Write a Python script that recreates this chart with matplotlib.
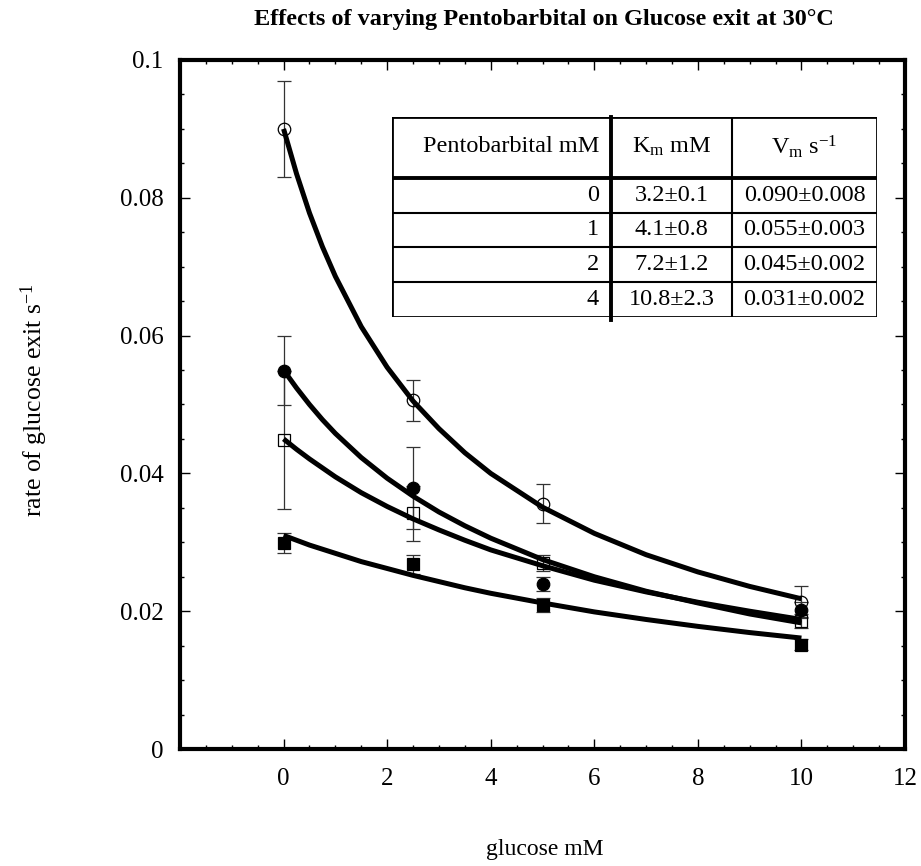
import numpy as np
import matplotlib
matplotlib.use("Agg")
import matplotlib.pyplot as plt

plt.rcParams['font.family'] = ['Liberation Serif', 'DejaVu Serif']
plt.rcParams['mathtext.fontset'] = 'custom'
plt.rcParams['mathtext.rm'] = 'Liberation Serif'
plt.rcParams['mathtext.it'] = 'Liberation Serif:italic'

# measured points (glucose mM -> rate s^-1), one list per pentobarbital level
glucose = [0, 2.5, 5, 10]
rate_0 = [0.0900, 0.0506, 0.0356, 0.0214]
err_0 = [0.0070, 0.0030, 0.0028, 0.0022]
rate_1 = [0.0549, 0.0379, 0.0239, 0.0202]
err_1 = [0.0050, 0.0060, 0.0010, 0.0012]
rate_2 = [0.0449, 0.0342, 0.0270, 0.0186]
err_2 = [0.0100, 0.0040, 0.0012, 0.0010]
rate_4 = [0.0299, 0.0268, 0.0209, 0.0151]
err_4 = [0.0015, 0.0014, 0.0010, 0.0008]

# fitted curves
curve_x = [0, 0.25, 0.5, 0.75, 1, 1.5, 2, 2.5, 3, 3.5, 4, 5, 6, 7, 8, 9, 10]
fit_0 = [0.0900, 0.0835, 0.0778, 0.0729, 0.0686, 0.0613, 0.0554, 0.0505, 0.0465,
         0.0430, 0.0400, 0.0351, 0.0313, 0.0282, 0.0257, 0.0236, 0.0218]
fit_1 = [0.0550, 0.0524, 0.0500, 0.0478, 0.0458, 0.0423, 0.0393, 0.0367, 0.0344,
         0.0324, 0.0306, 0.0275, 0.0250, 0.0229, 0.0212, 0.0196, 0.0183]
fit_2 = [0.0450, 0.0435, 0.0421, 0.0408, 0.0395, 0.0372, 0.0352, 0.0334, 0.0318,
         0.0303, 0.0289, 0.0266, 0.0245, 0.0228, 0.0213, 0.0200, 0.0188]
fit_4 = [0.0310, 0.0303, 0.0296, 0.0290, 0.0284, 0.0272, 0.0262, 0.0252, 0.0243,
         0.0234, 0.0226, 0.0212, 0.0199, 0.0188, 0.0178, 0.0169, 0.0161]

# inset table
tab_header = ['Pentobarbital mM', 'K$_{\\mathrm{m}}$ mM', 'V$_{\\mathrm{m}}$ s$^{-1}$']
tab_pento = ['0', '1', '2', '4']
tab_km = ['3.2\u00b10.1', '4.1\u00b10.8', '7.2\u00b11.2', '10.8\u00b12.3']
tab_vm = ['0.090\u00b10.008', '0.055\u00b10.003', '0.045\u00b10.002', '0.031\u00b10.002']

fig = plt.figure(figsize=(9.21, 8.66), dpi=100)
ax = fig.add_axes([180/921, 1-749/866, 725/921, 689/866])

series = [(rate_0, err_0, fit_0, 'o', 'none'),
          (rate_1, err_1, fit_1, 'o', 'black'),
          (rate_2, err_2, fit_2, 's', 'none'),
          (rate_4, err_4, fit_4, 's', 'black')]
for r, e, f, m, fc in series:
    ax.errorbar(glucose, r, yerr=e, fmt='none', ecolor='#333333', elinewidth=0.9,
                capsize=5, capthick=0.9, zorder=2)
    ax.plot(glucose, r, linestyle='none', marker=m, markersize=9,
            markerfacecolor=fc, markeredgecolor='black', markeredgewidth=0.9, zorder=3)
    ax.plot(curve_x, f, color='black', linewidth=3.6, solid_capstyle='butt',
            solid_joinstyle='round', zorder=4)

ax.set_xlim(-2, 12)
ax.set_ylim(0, 0.1)
ax.set_xticks([0, 2, 4, 6, 8, 10, 12])
ax.set_xticks(np.arange(-2, 12.01, 0.5), minor=True)
ax.set_yticks([0, 0.02, 0.04, 0.06, 0.08, 0.1])
ax.set_yticklabels(['0', '0.02', '0.04', '0.06', '0.08', '0.1'])
ax.set_yticks(np.arange(0, 0.1001, 0.005), minor=True)
ax.tick_params(which='both', direction='in', top=True, right=True, labelsize=18, width=1)
ax.tick_params(which='major', length=7)
ax.tick_params(which='minor', length=3)
ax.tick_params(axis='x', pad=14)
ax.tick_params(axis='y', pad=12)
for s in ax.spines.values():
    s.set_linewidth(3)

fig.text(544/921, 1-19/866, 'Effects of varying Pentobarbital on Glucose exit at 30\u00b0C',
         ha='center', va='center', fontsize=17.5, fontweight='bold')
fig.text(545/921, 1-850/866, 'glucose mM', ha='center', va='center', fontsize=17)
fig.text(34/921, 1-400/866, 'rate of glucose exit s$^{-1}$', ha='center', va='center',
         rotation=90, fontsize=18.5)

# table drawn in its own pixel-scaled axes
tx = fig.add_axes([392/921, 1-317/866, 485/921, 200/866])
tx.set_xlim(0, 485)
tx.set_ylim(200, 0)
tx.axis('off')
tx.add_patch(plt.Rectangle((0, 0), 485, 200, facecolor='white', edgecolor='black', linewidth=2))
row_y = [61, 95.5, 130, 164.5, 200]
for yy in row_y[1:-1]:
    tx.plot([0, 485], [yy, yy], color='black', linewidth=1.5)
tx.plot([0, 485], [61, 61], color='black', linewidth=2.8)
tx.plot([219, 219], [0, 203], color='black', linewidth=2.8, clip_on=False)
tx.plot([340, 340], [0, 200], color='black', linewidth=1.5)
col_c = [207, 279.5, 412.5]
tx.text(col_c[0], 30, tab_header[0], ha='right', va='center', fontsize=17.5)
tx.text(col_c[1], 30, tab_header[1], ha='center', va='center', fontsize=17.5)
tx.text(col_c[2], 30, tab_header[2], ha='center', va='center', fontsize=17.5)
for i in range(4):
    yc = (row_y[i] + row_y[i+1]) / 2
    tx.text(col_c[0], yc, tab_pento[i], ha='right', va='center', fontsize=17.5)
    tx.text(col_c[1], yc, tab_km[i], ha='center', va='center', fontsize=17.5)
    tx.text(col_c[2], yc, tab_vm[i], ha='center', va='center', fontsize=17.5)

fig.savefig('out.png', dpi=100)
